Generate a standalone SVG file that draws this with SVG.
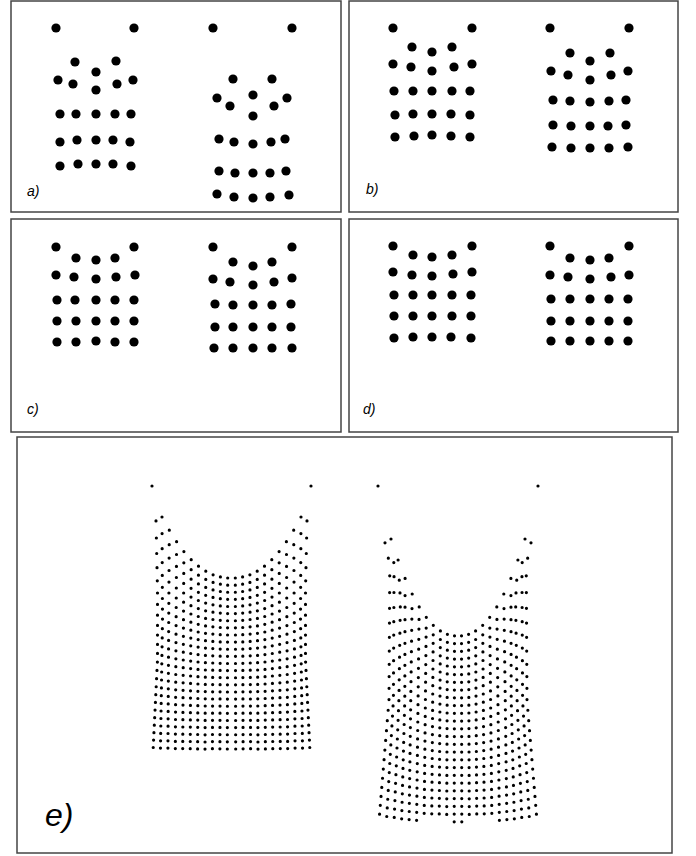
<svg xmlns="http://www.w3.org/2000/svg" width="696" height="856" viewBox="0 0 696 856">
<style>
.frame{fill:#fff;stroke:#444;stroke-width:1.5}
.d circle{fill:#000}
.lbl{font-family:"Liberation Sans",Arial,sans-serif;font-style:italic;font-size:14px;fill:#000}
.big{font-size:32px}
.col path{fill:none;stroke:#000;stroke-width:3.2;stroke-linecap:round}
.L0{stroke-dasharray:0 17.1 0 15.5 0 14.2 0 13.1 0 12.2 0 11.4 0 10.8 0 10.2 0 9.7 0 9.3 0 9 0 8.7 0 8.4 0 8.2 0 8.1 0 7.9 0 7.8 0 7.7 0 7.6 0 7.5 0 7.5 0 7.4 0 7.4 0 999}
.L1{stroke-dasharray:0 16.6 0 15.1 0 13.9 0 12.8 0 11.9 0 11.2 0 10.6 0 10 0 9.6 0 9.2 0 8.9 0 8.6 0 8.4 0 8.2 0 8 0 7.9 0 7.8 0 7.7 0 7.6 0 7.5 0 7.5 0 7.4 0 7.4 0 7.3 0 999}
.L2{stroke-dasharray:0 14.5 0 13.4 0 12.4 0 11.6 0 10.9 0 10.3 0 9.8 0 9.4 0 9.1 0 8.8 0 8.5 0 8.3 0 8.1 0 8 0 7.8 0 7.7 0 7.6 0 7.5 0 7.5 0 7.4 0 7.4 0 7.3 0 7.3 0 7.3 0 999}
.L3{stroke-dasharray:0 12.8 0 11.9 0 11.1 0 10.5 0 10 0 9.5 0 9.2 0 8.9 0 8.6 0 8.4 0 8.2 0 8 0 7.9 0 7.8 0 7.7 0 7.6 0 7.5 0 7.4 0 7.4 0 7.4 0 7.3 0 7.3 0 7.3 0 7.2 0 999}
.L4{stroke-dasharray:0 11.2 0 10.6 0 10 0 9.6 0 9.2 0 8.9 0 8.6 0 8.4 0 8.2 0 8 0 7.9 0 7.8 0 7.7 0 7.6 0 7.5 0 7.5 0 7.4 0 7.4 0 7.3 0 7.3 0 7.3 0 7.2 0 7.2 0 7.2 0 999}
.L5{stroke-dasharray:0 10 0 9.5 0 9.1 0 8.8 0 8.6 0 8.3 0 8.2 0 8 0 7.9 0 7.7 0 7.7 0 7.6 0 7.5 0 7.4 0 7.4 0 7.4 0 7.3 0 7.3 0 7.3 0 7.2 0 7.2 0 7.2 0 7.2 0 7.2 0 999}
.L6{stroke-dasharray:0 9 0 8.7 0 8.4 0 8.2 0 8.1 0 7.9 0 7.8 0 7.7 0 7.6 0 7.5 0 7.5 0 7.4 0 7.4 0 7.3 0 7.3 0 7.3 0 7.2 0 7.2 0 7.2 0 7.2 0 7.2 0 7.2 0 7.2 0 7.2 0 999}
.L7{stroke-dasharray:0 8.2 0 8 0 7.9 0 7.8 0 7.7 0 7.6 0 7.5 0 7.4 0 7.4 0 7.4 0 7.3 0 7.3 0 7.3 0 7.2 0 7.2 0 7.2 0 7.2 0 7.2 0 7.2 0 7.2 0 7.2 0 7.2 0 7.2 0 7.1 0 999}
.L8{stroke-dasharray:0 7.6 0 7.5 0 7.5 0 7.4 0 7.4 0 7.3 0 7.3 0 7.3 0 7.3 0 7.2 0 7.2 0 7.2 0 7.2 0 7.2 0 7.2 0 7.2 0 7.2 0 7.1 0 7.1 0 7.1 0 7.1 0 7.1 0 7.1 0 7.1 0 999}
.L9{stroke-dasharray:0 7.3 0 7.3 0 7.2 0 7.2 0 7.2 0 7.2 0 7.2 0 7.2 0 7.2 0 7.2 0 7.125 0 7.125 0 7.125 0 7.125 0 7.125 0 7.125 0 7.125 0 7.125 0 7.125 0 7.125 0 7.125 0 7.125 0 7.125 0 7.125 0 999}
.L10{stroke-dasharray:0 7.125}
.R0{stroke-dasharray:0 15.75 0 17.75 0 16.75 0 15.75 0 14.75 0 14.25 0 13.75 0 13.25 0 12.25 0 11.75 0 11.25 0 10.75 0 10.45 0 10.05 0 9.75 0 9.75 0 9.55 0 9.45 0 9.25 0 9.15 0 9.05 0 8.95 0 8.85 0 999}
.R1{stroke-dasharray:0 23.7 0 14.2 0 15.8 0 15 0 14.2 0 13.4 0 13 0 12.6 0 12.2 0 11.4 0 11 0 10.6 0 10.2 0 9.9 0 9.6 0 9.4 0 9.4 0 9.2 0 9.1 0 9 0 8.9 0 8.8 0 8.7 0 8.6 0 999}
.R2{stroke-dasharray:0 20.2 0 12.8 0 14 0 13.4 0 12.8 0 12.2 0 11.8 0 11.5 0 11.2 0 10.6 0 10.3 0 10 0 9.6 0 9.5 0 9.2 0 9 0 9 0 8.9 0 8.8 0 8.7 0 8.6 0 8.6 0 8.5 0 8.4 0 999}
.R3{stroke-dasharray:0 17.2 0 11.6 0 12.5 0 12 0 11.6 0 11.1 0 10.9 0 10.6 0 10.4 0 9.9 0 9.7 0 9.4 0 9.2 0 9 0 8.9 0 8.7 0 8.7 0 8.6 0 8.6 0 8.5 0 8.4 0 8.4 0 8.3 0 8.3 0 999}
.R4{stroke-dasharray:0 14.6 0 10.5 0 11.2 0 10.9 0 10.5 0 10.2 0 10 0 9.8 0 9.7 0 9.3 0 9.1 0 9 0 8.8 0 8.7 0 8.6 0 8.5 0 8.5 0 8.4 0 8.3 0 8.3 0 8.2 0 8.2 0 8.2 0 8.1 0 999}
.R5{stroke-dasharray:0 12.5 0 9.7 0 10.2 0 9.9 0 9.7 0 9.4 0 9.3 0 9.2 0 9.1 0 8.8 0 8.7 0 8.6 0 8.5 0 8.4 0 8.3 0 8.2 0 8.2 0 8.2 0 8.2 0 8.1 0 8.1 0 8.1 0 8 0 8 0 999}
.R6{stroke-dasharray:0 10.8 0 9 0 9.3 0 9.2 0 9 0 8.8 0 8.8 0 8.7 0 8.6 0 8.5 0 8.4 0 8.3 0 8.2 0 8.2 0 8.1 0 8.1 0 8.1 0 8 0 8 0 8 0 8 0 8 0 7.9 0 7.9 0 999}
.R7{stroke-dasharray:0 9.5 0 8.5 0 8.6 0 8.6 0 8.5 0 8.4 0 8.3 0 8.3 0 8.2 0 8.2 0 8.1 0 8.1 0 8 0 8 0 8 0 7.9 0 7.9 0 7.9 0 7.9 0 7.9 0 7.9 0 7.9 0 7.9 0 7.9 0 999}
.R8{stroke-dasharray:0 8.6 0 8.1 0 8.2 0 8.1 0 8.1 0 8.1 0 8 0 8 0 8 0 7.9 0 7.9 0 7.9 0 7.9 0 7.9 0 7.9 0 7.8 0 7.8 0 7.8 0 7.8 0 7.8 0 7.8 0 7.8 0 7.8 0 7.8 0 999}
.R9{stroke-dasharray:0 8 0 7.9 0 7.9 0 7.9 0 7.9 0 7.9 0 7.8 0 7.8 0 7.8 0 7.8 0 7.8 0 7.8 0 7.8 0 7.8 0 7.8 0 7.8 0 7.8 0 7.8 0 7.8 0 7.8 0 7.8 0 7.8 0 7.8 0 7.8 0 999}
.R10{stroke-dasharray:0 7.75}
</style>

<g id="panel-a">
<rect class="frame" x="11" y="1" width="330" height="211"/>
<g class="d" id="a-left">
<circle cx="56" cy="28" r="4.6"/><circle cx="75" cy="62" r="4.6"/><circle cx="96" cy="72" r="4.6"/><circle cx="116" cy="61" r="4.6"/><circle cx="134" cy="28" r="4.6"/>
<circle cx="58" cy="80" r="4.6"/><circle cx="73" cy="84" r="4.6"/><circle cx="96" cy="90" r="4.6"/><circle cx="117" cy="84" r="4.6"/><circle cx="133" cy="80" r="4.6"/>
<circle cx="60" cy="114" r="4.6"/><circle cx="76" cy="114" r="4.6"/><circle cx="96" cy="114" r="4.6"/><circle cx="115" cy="114" r="4.6"/><circle cx="131" cy="114" r="4.6"/>
<circle cx="60" cy="142" r="4.6"/><circle cx="77" cy="140" r="4.6"/><circle cx="96" cy="140" r="4.6"/><circle cx="113" cy="140" r="4.6"/><circle cx="130" cy="142" r="4.6"/>
<circle cx="60" cy="166" r="4.6"/><circle cx="78" cy="164" r="4.6"/><circle cx="96" cy="164" r="4.6"/><circle cx="113" cy="164" r="4.6"/><circle cx="131" cy="166" r="4.6"/>
</g>
<g class="d" id="a-right">
<circle cx="213" cy="28" r="4.6"/><circle cx="233" cy="79" r="4.6"/><circle cx="253" cy="95" r="4.6"/><circle cx="272" cy="79" r="4.6"/><circle cx="292" cy="28" r="4.6"/>
<circle cx="217" cy="98" r="4.6"/><circle cx="230" cy="106" r="4.6"/><circle cx="253" cy="116" r="4.6"/><circle cx="274" cy="106" r="4.6"/><circle cx="287" cy="98" r="4.6"/>
<circle cx="219" cy="139" r="4.6"/><circle cx="234" cy="142" r="4.6"/><circle cx="253" cy="144" r="4.6"/><circle cx="271" cy="142" r="4.6"/><circle cx="285" cy="139" r="4.6"/>
<circle cx="219" cy="171" r="4.6"/><circle cx="235" cy="173" r="4.6"/><circle cx="253" cy="173" r="4.6"/><circle cx="270" cy="173" r="4.6"/><circle cx="286" cy="171" r="4.6"/>
<circle cx="217" cy="194" r="4.6"/><circle cx="234" cy="197" r="4.6"/><circle cx="253" cy="198" r="4.6"/><circle cx="270" cy="197" r="4.6"/><circle cx="289" cy="195" r="4.6"/>
</g>
<text class="lbl" x="27" y="196">a)</text>
</g>

<g id="panel-b">
<rect class="frame" x="349" y="1" width="329" height="211"/>
<g class="d" id="b-left">
<circle cx="393" cy="28" r="4.6"/><circle cx="412" cy="47" r="4.6"/><circle cx="432" cy="52" r="4.6"/><circle cx="452" cy="47" r="4.6"/><circle cx="472" cy="28" r="4.6"/>
<circle cx="393" cy="64" r="4.6"/><circle cx="411" cy="67" r="4.6"/><circle cx="432" cy="71" r="4.6"/><circle cx="454" cy="67" r="4.6"/><circle cx="472" cy="64" r="4.6"/>
<circle cx="394" cy="91" r="4.6"/><circle cx="413" cy="91" r="4.6"/><circle cx="432" cy="91" r="4.6"/><circle cx="452" cy="91" r="4.6"/><circle cx="470" cy="91" r="4.6"/>
<circle cx="395" cy="115" r="4.6"/><circle cx="413" cy="114" r="4.6"/><circle cx="432" cy="114" r="4.6"/><circle cx="451" cy="114" r="4.6"/><circle cx="470" cy="115" r="4.6"/>
<circle cx="395" cy="137" r="4.6"/><circle cx="414" cy="136" r="4.6"/><circle cx="432" cy="135" r="4.6"/><circle cx="451" cy="136" r="4.6"/><circle cx="470" cy="137" r="4.6"/>
</g>
<g class="d" id="b-right">
<circle cx="550" cy="28" r="4.6"/><circle cx="570" cy="53" r="4.6"/><circle cx="590" cy="61" r="4.6"/><circle cx="610" cy="53" r="4.6"/><circle cx="629" cy="28" r="4.6"/>
<circle cx="551" cy="71" r="4.6"/><circle cx="568" cy="75" r="4.6"/><circle cx="590" cy="80" r="4.6"/><circle cx="611" cy="75" r="4.6"/><circle cx="628" cy="71" r="4.6"/>
<circle cx="553" cy="100" r="4.6"/><circle cx="570" cy="101" r="4.6"/><circle cx="590" cy="102" r="4.6"/><circle cx="609" cy="101" r="4.6"/><circle cx="626" cy="100" r="4.6"/>
<circle cx="553" cy="125" r="4.6"/><circle cx="571" cy="126" r="4.6"/><circle cx="590" cy="126" r="4.6"/><circle cx="608" cy="126" r="4.6"/><circle cx="626" cy="125" r="4.6"/>
<circle cx="552" cy="147" r="4.6"/><circle cx="571" cy="148" r="4.6"/><circle cx="590" cy="148" r="4.6"/><circle cx="609" cy="148" r="4.6"/><circle cx="628" cy="147" r="4.6"/>
</g>
<text class="lbl" x="366" y="194">b)</text>
</g>

<g id="panel-c">
<rect class="frame" x="11" y="219" width="330" height="213"/>
<g class="d" id="c-left">
<circle cx="56" cy="247" r="4.6"/><circle cx="76" cy="258" r="4.6"/><circle cx="96" cy="260" r="4.6"/><circle cx="115" cy="258" r="4.6"/><circle cx="134" cy="247" r="4.6"/>
<circle cx="56" cy="275" r="4.6"/><circle cx="74" cy="277" r="4.6"/><circle cx="96" cy="279" r="4.6"/><circle cx="116" cy="277" r="4.6"/><circle cx="135" cy="275" r="4.6"/>
<circle cx="57" cy="300" r="4.6"/><circle cx="75" cy="300" r="4.6"/><circle cx="96" cy="300" r="4.6"/><circle cx="115" cy="300" r="4.6"/><circle cx="134" cy="300" r="4.6"/>
<circle cx="57" cy="321" r="4.6"/><circle cx="76" cy="321" r="4.6"/><circle cx="96" cy="321" r="4.6"/><circle cx="115" cy="321" r="4.6"/><circle cx="134" cy="321" r="4.6"/>
<circle cx="57" cy="342" r="4.6"/><circle cx="76" cy="342" r="4.6"/><circle cx="96" cy="341" r="4.6"/><circle cx="115" cy="342" r="4.6"/><circle cx="134" cy="342" r="4.6"/>
</g>
<g class="d" id="c-right">
<circle cx="213" cy="247" r="4.6"/><circle cx="233" cy="262" r="4.6"/><circle cx="253" cy="266" r="4.6"/><circle cx="272" cy="262" r="4.6"/><circle cx="292" cy="247" r="4.6"/>
<circle cx="213" cy="279" r="4.6"/><circle cx="230" cy="282" r="4.6"/><circle cx="253" cy="285" r="4.6"/><circle cx="274" cy="282" r="4.6"/><circle cx="292" cy="278" r="4.6"/>
<circle cx="215" cy="304" r="4.6"/><circle cx="233" cy="305" r="4.6"/><circle cx="253" cy="305" r="4.6"/><circle cx="272" cy="305" r="4.6"/><circle cx="291" cy="304" r="4.6"/>
<circle cx="215" cy="327" r="4.6"/><circle cx="233" cy="327" r="4.6"/><circle cx="253" cy="327" r="4.6"/><circle cx="272" cy="327" r="4.6"/><circle cx="291" cy="327" r="4.6"/>
<circle cx="214" cy="348" r="4.6"/><circle cx="233" cy="348" r="4.6"/><circle cx="253" cy="348" r="4.6"/><circle cx="272" cy="348" r="4.6"/><circle cx="292" cy="348" r="4.6"/>
</g>
<text class="lbl" x="27" y="414">c)</text>
</g>

<g id="panel-d">
<rect class="frame" x="349" y="219" width="329" height="213"/>
<g class="d" id="d-left">
<circle cx="393" cy="246" r="4.6"/><circle cx="413" cy="255" r="4.6"/><circle cx="432" cy="257" r="4.6"/><circle cx="452" cy="255" r="4.6"/><circle cx="472" cy="246" r="4.6"/>
<circle cx="393" cy="272" r="4.6"/><circle cx="412" cy="275" r="4.6"/><circle cx="432" cy="276" r="4.6"/><circle cx="453" cy="274" r="4.6"/><circle cx="472" cy="272" r="4.6"/>
<circle cx="394" cy="295" r="4.6"/><circle cx="413" cy="295" r="4.6"/><circle cx="432" cy="295" r="4.6"/><circle cx="452" cy="295" r="4.6"/><circle cx="471" cy="295" r="4.6"/>
<circle cx="394" cy="316" r="4.6"/><circle cx="413" cy="316" r="4.6"/><circle cx="432" cy="316" r="4.6"/><circle cx="452" cy="316" r="4.6"/><circle cx="471" cy="316" r="4.6"/>
<circle cx="394" cy="338" r="4.6"/><circle cx="413" cy="337" r="4.6"/><circle cx="432" cy="337" r="4.6"/><circle cx="451" cy="337" r="4.6"/><circle cx="471" cy="338" r="4.6"/>
</g>
<g class="d" id="d-right">
<circle cx="550" cy="246" r="4.6"/><circle cx="570" cy="258" r="4.6"/><circle cx="590" cy="260" r="4.6"/><circle cx="609" cy="258" r="4.6"/><circle cx="629" cy="246" r="4.6"/>
<circle cx="550" cy="275" r="4.6"/><circle cx="568" cy="277" r="4.6"/><circle cx="590" cy="279" r="4.6"/><circle cx="611" cy="277" r="4.6"/><circle cx="629" cy="275" r="4.6"/>
<circle cx="551" cy="299" r="4.6"/><circle cx="570" cy="299" r="4.6"/><circle cx="590" cy="299" r="4.6"/><circle cx="609" cy="299" r="4.6"/><circle cx="628" cy="299" r="4.6"/>
<circle cx="551" cy="321" r="4.6"/><circle cx="570" cy="321" r="4.6"/><circle cx="590" cy="321" r="4.6"/><circle cx="609" cy="321" r="4.6"/><circle cx="628" cy="321" r="4.6"/>
<circle cx="551" cy="341" r="4.6"/><circle cx="570" cy="341" r="4.6"/><circle cx="590" cy="341" r="4.6"/><circle cx="609" cy="341" r="4.6"/><circle cx="628" cy="341" r="4.6"/>
</g>
<text class="lbl" x="363" y="414">d)</text>
</g>

<g id="panel-e">
<rect class="frame" x="17" y="437" width="655" height="416"/>
<g class="d" id="e-pins">
<circle cx="152" cy="486" r="1.6"/><circle cx="311" cy="486" r="1.6"/><circle cx="378" cy="486" r="1.6"/><circle cx="538" cy="486" r="1.6"/>
</g>
<g class="col" id="e-left-cloth">
<path class="L0" d="M156 520.9L157.5 590L157.5 660L153 752"/>
<path class="L0" d="M307 520.9L305.5 590L305.5 660L310 752"/>
<path class="L1" d="M162 517L162.5 620L160.4 752"/>
<path class="L1" d="M301 517L300.5 620L302.6 752"/>
<path class="L2" d="M169.3 530.2L167.9 752"/>
<path class="L2" d="M293.7 530.2L295.1 752"/>
<path class="L3" d="M176.6 541.7L175.3 752"/>
<path class="L3" d="M286.4 541.7L287.7 752"/>
<path class="L4" d="M183.9 551.6L182.7 752"/>
<path class="L4" d="M279.1 551.6L280.3 752"/>
<path class="L5" d="M191.2 559.7L190.2 752"/>
<path class="L5" d="M271.8 559.7L272.8 752"/>
<path class="L6" d="M198.5 566.2L197.6 752"/>
<path class="L6" d="M264.5 566.2L265.4 752"/>
<path class="L7" d="M205.8 571.2L205 752"/>
<path class="L7" d="M257.2 571.2L258 752"/>
<path class="L8" d="M213.1 574.8L212.4 752"/>
<path class="L8" d="M249.9 574.8L250.6 752"/>
<path class="L9" d="M220.4 576.9L219.9 752"/>
<path class="L9" d="M242.6 576.9L243.1 752"/>
<path class="L10" d="M227.7 578L227.3 752"/>
<path class="L10" d="M235.3 578L235.7 752"/>
</g>
<g class="col" id="e-right-cloth">
<path class="R0" d="M385 542.8L389.8 565L389 700L379 821"/>
<path class="R0" d="M531 542.8L526.2 565L527 700L537 821"/>
<path class="R1" d="M391 539L394.1 565L393.4 700L386.5 821"/>
<path class="R1" d="M525 539L521.9 565L522.6 700L529.5 821"/>
<path class="R2" d="M398.1 560L400.4 600L398.9 700L394.1 821"/>
<path class="R2" d="M517.9 560L515.6 600L517.1 700L521.9 821"/>
<path class="R3" d="M405.1 578.4L404.8 700L401.6 821"/>
<path class="R3" d="M510.9 578.4L511.2 700L514.4 821"/>
<path class="R4" d="M412.2 594L409.1 821"/>
<path class="R4" d="M503.8 594L506.9 821"/>
<path class="R5" d="M419.2 606.9L416.6 821"/>
<path class="R5" d="M496.8 606.9L499.4 821"/>
<path class="R6" d="M426.3 617.3L424.1 821"/>
<path class="R6" d="M489.7 617.3L491.9 821"/>
<path class="R7" d="M433.3 625.3L431.7 821"/>
<path class="R7" d="M482.7 625.3L484.3 821"/>
<path class="R8" d="M440.4 630.9L439.2 821"/>
<path class="R8" d="M475.6 630.9L476.8 821"/>
<path class="R9" d="M447.4 634.3L446.7 821"/>
<path class="R9" d="M468.6 634.3L469.3 821"/>
<path class="R10" d="M454.5 635.8L454.2 825"/>
<path class="R10" d="M461.5 635.8L461.8 825"/>
</g>
<text class="lbl big" x="45" y="826">e)</text>
</g>
</svg>
